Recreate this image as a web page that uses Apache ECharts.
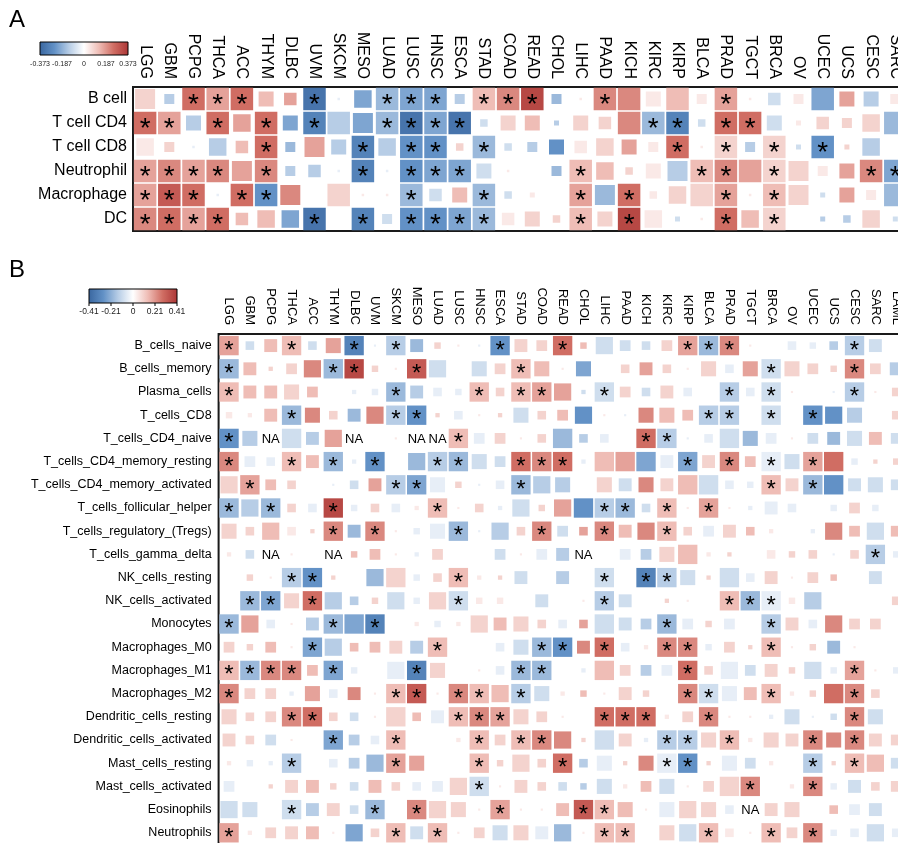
<!DOCTYPE html>
<html>
<head>
<meta charset="utf-8">
<script src="https://cdn.jsdelivr.net/npm/echarts@6/dist/echarts.min.js"></script>
<style>
  html, body { margin: 0; padding: 0; background: #fff; }
  #main { width: 898px; height: 843px; }
</style>
</head>
<body>
<div id="main"></div>
<script>
// cancer types (columns)
const colsA = ['LGG','GBM','PCPG','THCA','ACC','THYM','DLBC','UVM','SKCM','MESO','LUAD','LUSC','HNSC','ESCA','STAD','COAD',
  'READ','CHOL','LIHC','PAAD','KICH','KIRC','KIRP','BLCA','PRAD','TGCT','BRCA','OV','UCEC','UCS','CESC','SARC']
const colsB = colsA.concat(['LAML'])

const rowsA = ['B cell','T cell CD4','T cell CD8','Neutrophil','Macrophage','DC']
const rowsB = ['B_cells_naive','B_cells_memory','Plasma_cells','T_cells_CD8','T_cells_CD4_naive',
  'T_cells_CD4_memory_resting','T_cells_CD4_memory_activated','T_cells_follicular_helper',
  'T_cells_regulatory_(Tregs)','T_cells_gamma_delta','NK_cells_resting','NK_cells_activated','Monocytes',
  'Macrophages_M0','Macrophages_M1','Macrophages_M2','Dendritic_cells_resting','Dendritic_cells_activated',
  'Mast_cells_resting','Mast_cells_activated','Eosinophils','Neutrophils']

// colour bar ticks
const ticksA = ['-0.373','-0.187','0','0.187','0.373']
const ticksB = ['-0.41','-0.21','0','0.21','0.41']

// correlation, as level -9..9 of the colour bar
const levelA = [
  [2,-3,6,4,6,3,4,-8,-1,-5,-4,-5,-5,-3,3,5,8,-4,1,5,5,1,3,1,4,1,-2,1,-5,4,-3,1],
  [6,4,-3,6,4,6,-5,-7,-3,-5,-4,-8,-5,-8,-2,2,3,-3,2,2,5,-4,-7,-2,6,6,-2,1,2,2,2,-4],
  [1,2,-1,-3,3,6,-4,4,-3,-7,-3,-6,-6,2,-4,-2,-3,-6,1,2,4,1,6,1,2,-3,2,-2,-6,2,-3,0],
  [4,5,4,5,4,5,-3,-3,-1,-7,-1,-6,-5,-5,-2,1,0,-4,3,3,2,1,-3,3,5,4,2,2,1,4,5,-5],
  [4,7,6,-1,6,-6,5,0,2,1,1,-4,-2,3,-4,-2,1,0,4,-4,6,1,2,2,4,1,3,2,-2,4,1,-4],
  [5,6,4,6,3,3,-5,-8,0,-7,-2,-6,-6,-5,-4,1,2,2,3,2,8,1,-2,1,6,3,2,0,-3,-3,2,-2]
]
// square size, 0..9 of a full cell
const sizeA = [
  [8,4,9,9,9,6,5,9,1,7,9,9,9,4,9,9,9,4,1,9,9,6,9,4,9,1,5,4,9,6,6,4],
  [9,9,6,9,7,9,6,9,9,8,9,9,9,9,3,6,6,2,6,5,9,9,9,3,9,9,6,2,5,4,7,9],
  [7,4,1,7,5,9,4,8,6,9,7,9,9,3,9,3,4,6,5,7,6,4,9,1,9,4,9,2,9,2,7,0],
  [9,9,9,9,8,9,4,5,1,9,1,9,9,9,6,1,0,4,9,7,3,6,8,9,9,9,9,8,4,6,9,9],
  [9,9,9,1,9,9,8,1,9,1,1,9,5,6,9,3,2,1,9,8,9,3,7,9,9,1,9,8,2,6,4,9],
  [9,9,9,9,5,7,7,9,1,9,4,9,9,9,9,5,6,3,9,6,9,7,2,1,9,7,9,1,2,3,7,2]
]
// * = significant, N = NA
const markA = [
  '..***..*..***.***..*....*.......',
  '**.*.*.*..****.......**.**......',
  '.....*...*.**.*.......*.*.*.*...',
  '****.*...*.***....*....**.*...**',
  '***.**.....*..*...*.*...*.*.....',
  '****...*.*.****...*.*...*.*.....'
]

const levelB = [
  [4,-2,3,3,-2,4,-7,-1,-3,-4,2,1,-1,-6,2,2,6,3,-2,-2,-2,2,4,-4,5,1,0,-1,-1,-3,-3,-2,0],
  [-4,3,2,2,5,-4,8,2,1,7,-2,0,-2,2,3,3,1,-5,0,2,4,2,1,2,-1,4,-2,2,2,2,5,2,-3],
  [3,3,3,2,3,0,-1,-1,-4,-3,-1,-1,3,2,3,4,4,-2,-2,2,-2,2,-1,0,-3,-1,-2,1,0,-1,-3,1,2],
  [1,1,3,-4,5,2,-4,5,-3,-6,2,-1,1,2,-2,2,3,-6,1,-1,5,3,3,-3,-3,0,-2,0,-6,-6,-3,0,2],
  [-6,-3,0,-2,-3,4,0,0,1,0,0,3,-1,2,1,2,-4,-3,-1,0,6,-3,-1,-1,-2,-4,-1,1,-2,-4,-2,3,-2],
  [5,-1,-1,3,3,-4,-1,-6,0,-4,-3,-4,-2,-2,6,5,6,-1,3,4,-5,-1,-5,2,5,3,-1,-2,4,6,-1,2,2],
  [2,4,3,2,0,-1,-2,4,-3,-5,-1,2,-1,-1,-4,-3,-3,0,2,-2,5,2,3,-2,-1,-1,3,2,-4,-6,-2,-2,-2],
  [-4,-3,-4,2,-1,8,-1,2,-1,1,3,1,2,-1,-2,2,4,-6,-3,-4,-2,3,1,4,1,-1,-1,-1,0,-1,2,-1,0],
  [2,2,3,1,2,5,-4,5,1,-1,-1,-4,-1,-3,2,5,-2,4,5,3,5,3,2,-1,2,3,1,0,-1,5,3,-2,3],
  [1,-2,0,1,0,0,3,3,1,-1,2,0,0,-2,1,-1,-3,0,0,-1,-3,2,3,1,2,0,1,2,2,-1,2,-3,-1],
  [0,2,1,-3,-6,2,0,-4,2,-1,2,3,1,2,-2,0,-3,0,-2,0,-7,-3,-2,2,-2,-1,2,1,2,3,0,-2,0],
  [0,-4,-5,2,6,-3,-3,2,-2,-1,2,-2,1,1,0,-2,0,1,-3,-2,0,2,1,0,3,-4,-1,1,-3,0,0,0,2],
  [-4,4,-1,1,-3,-4,-5,-7,0,1,-1,1,2,3,2,2,-1,4,-2,-2,-3,-4,-1,2,-1,0,-3,2,-1,5,2,2,0],
  [2,2,3,1,-5,-3,3,3,2,-3,3,0,0,-1,-2,-4,-6,5,6,-1,1,5,5,-1,2,2,3,1,2,-4,1,0,0],
  [3,-4,5,5,3,-5,-1,0,-1,-7,2,0,1,-1,-4,-4,0,-1,3,2,-3,-1,6,2,-1,-2,2,2,-2,-1,4,1,-1],
  [5,2,2,-1,4,-1,5,1,3,7,1,5,3,3,-3,-2,1,3,1,2,2,0,5,-2,-1,3,3,1,2,6,5,2,0],
  [2,2,2,5,6,2,-2,1,2,3,-1,3,5,4,2,2,1,0,6,6,6,1,2,5,1,1,-1,-2,-1,-2,5,-2,0],
  [2,2,-2,1,0,-5,-3,-1,3,0,0,1,3,2,3,5,5,2,-2,2,-1,-3,-3,2,3,1,2,2,5,5,5,2,2],
  [1,-1,-1,-3,0,-1,-3,-4,4,4,0,0,3,2,2,2,6,-3,-1,2,5,-1,-6,2,-1,-2,1,0,-3,2,3,3,-2],
  [-1,0,2,2,3,2,-2,3,2,-1,-1,2,-2,1,2,2,-2,-3,-2,1,3,-2,1,2,2,5,0,1,5,-1,-2,2,2],
  [-2,-2,0,-2,-3,2,-2,-4,0,5,2,2,1,4,1,1,3,7,3,3,1,-1,2,2,-1,0,2,2,0,3,-1,-2,0],
  [4,1,2,2,3,1,-5,2,3,-2,3,1,2,-2,2,-1,-4,1,3,3,0,2,-2,3,1,1,3,2,5,-1,-1,-2,-1]
]
const sizeB = [
  [9,4,6,9,4,7,9,1,9,6,3,1,1,9,6,5,9,3,8,5,4,5,9,9,9,1,0,4,3,4,9,6,0],
  [9,6,2,5,8,9,9,3,1,9,8,0,7,5,9,7,1,7,0,4,6,4,1,7,4,7,9,7,5,3,9,5,6],
  [9,6,6,7,5,0,2,3,9,6,4,3,9,4,9,9,8,2,9,5,4,6,4,1,9,4,9,1,1,1,9,1,4],
  [3,2,6,9,7,4,6,8,9,9,2,4,1,2,7,4,5,8,1,1,7,7,5,9,9,1,9,2,9,8,7,1,4],
  [9,7,0,9,6,8,0,1,1,0,0,9,5,5,1,4,9,4,4,1,9,9,1,4,9,7,5,1,5,6,7,6,5],
  [9,5,4,9,6,9,2,9,0,8,9,9,7,5,9,9,9,2,9,9,9,6,9,6,9,5,9,7,9,9,3,2,3],
  [8,9,5,4,0,1,4,6,9,9,7,3,1,4,9,8,7,0,7,6,7,6,9,9,4,3,9,6,9,9,6,7,5],
  [9,8,9,4,4,9,3,4,4,2,9,1,4,2,8,3,8,9,9,9,4,9,1,9,1,2,6,4,1,3,5,3,0],
  [7,4,8,4,2,9,6,9,1,3,7,9,1,8,4,9,5,4,9,6,8,9,4,5,6,4,2,1,2,8,5,8,5],
  [2,4,0,1,0,0,3,5,1,2,5,0,1,5,1,5,6,0,0,5,5,7,9,2,2,0,4,3,4,1,4,9,3],
  [1,3,1,9,9,2,1,8,9,3,4,9,2,2,6,1,6,0,9,0,9,9,7,2,9,4,6,1,5,3,1,6,0],
  [1,9,9,7,9,8,4,3,8,3,8,9,3,3,1,6,1,1,9,6,0,2,1,1,9,9,9,3,8,0,0,0,4],
  [9,8,4,1,6,9,9,9,1,2,3,2,8,6,7,4,4,4,9,6,5,9,5,3,5,0,9,6,4,8,5,5,0],
  [5,3,5,1,9,8,4,5,6,6,9,1,1,4,7,9,9,6,9,4,2,9,9,3,5,2,9,1,3,6,1,0,0],
  [9,9,9,9,5,9,3,0,8,9,7,1,1,4,9,9,1,2,9,5,5,5,9,4,8,5,6,3,8,3,9,1,3],
  [9,5,5,2,7,4,6,1,9,9,1,9,9,8,9,7,2,3,1,6,3,1,9,9,7,6,9,2,3,9,9,4,0],
  [7,4,5,9,9,4,4,1,9,4,6,9,9,9,7,5,1,0,9,9,9,2,5,9,1,1,2,7,1,3,9,7,0],
  [6,4,5,1,1,9,5,4,9,1,1,2,9,5,9,9,8,2,9,6,2,9,9,7,9,2,7,6,9,7,9,6,5],
  [2,3,2,9,0,4,5,8,9,7,0,1,9,3,8,4,9,4,7,2,7,9,9,2,7,5,2,0,9,2,9,8,5],
  [5,1,2,6,6,3,4,6,4,4,5,8,9,1,6,4,4,3,7,2,5,7,1,5,9,9,1,2,9,3,6,4,5],
  [8,7,1,9,6,6,4,9,1,9,8,7,1,9,1,1,6,9,9,7,1,7,8,7,4,0,6,7,0,4,5,6,0],
  [9,2,5,6,6,1,8,4,9,6,9,1,5,7,7,6,8,1,9,9,0,7,8,9,4,1,9,5,9,3,4,8,4]
]
const markB = [
  '*..*..*.*....*..*.....***.....*..',
  '*....**..*....*...........*...*..',
  '*.......*...*.**..*.....*.*...*..',
  '...*....**.............**.*.*....',
  '*.N...N..NN*........**...........',
  '*..*.*.*..**..***.....*.*.*.*....',
  '.*......**....*...........*.*....',
  '*.*..*....*.......**.*.*.........',
  '.....*.*...*...*..*..*...........',
  '..N..N...........N.............*.',
  '...**......*......*.**...........',
  '.**.*......*......*.....***......',
  '*....*.*.............*....*......',
  '....*.....*....**.*..**...*......',
  '****.*...*....**......*.......*..',
  '*.......**.**.*.......**..*...*..',
  '...**......***....***..*......*..',
  '.....*..*...*.**.....**.*...*.*..',
  '...*....*...*...*....**.....*.*..',
  '............*............*..*....',
  '...*...*.*...*...**......N.......',
  '*.......*.*.......**...*..*.*....'
]

const FONT = '"Liberation Sans", Arial, Helvetica, sans-serif'
const PALETTE = ['#39669f', '#6291c6', '#b7cde6', '#ffffff', '#efbdb6', '#d06d63', '#ab3535']

function buildCells(levels, sizes, marks) {
  const out = []
  levels.forEach((row, i) => {
    row.forEach((v, j) => {
      const m = marks[i][j]
      out.push([j, i, v, sizes[i][j], m === '*' ? 1 : m === 'N' ? 2 : 0])
    })
  })
  return out
}

function cellSeries(idx, data, starSize) {
  return {
    type: 'custom',
    coordinateSystem: 'cartesian2d',
    xAxisIndex: idx,
    yAxisIndex: idx,
    encode: { x: 0, y: 1 },
    data: data,
    renderItem: function (params, api) {
      const c = api.coord([api.value(0), api.value(1)])
      const cell = api.size([1, 1])
      const full = Math.min(cell[0], cell[1]) - 1.5
      const side = full * api.value(3) / 9
      const mark = api.value(4)
      const kids = []
      if (side > 0) {
        kids.push({
          type: 'rect',
          shape: { x: c[0] - side / 2, y: c[1] - side / 2, width: side, height: side },
          style: { fill: api.visual('color') }
        })
      }
      if (mark === 1) {
        kids.push({
          type: 'text',
          style: {
            text: '*', x: c[0], y: c[1] + starSize * 0.22,
            align: 'center', verticalAlign: 'middle',
            font: starSize + 'px ' + FONT, fill: '#000'
          }
        })
      } else if (mark === 2) {
        kids.push({
          type: 'text',
          style: {
            text: 'NA', x: c[0], y: c[1] + 1,
            align: 'center', verticalAlign: 'middle',
            font: '13px ' + FONT, fill: '#000'
          }
        })
      }
      return { type: 'group', children: kids }
    }
  }
}

function colourBar(x, y, w, h, ticks, fontSize, withTicks) {
  const els = [{
    type: 'rect',
    shape: { x: x, y: y, width: w, height: h },
    style: {
      fill: new echarts.graphic.LinearGradient(0, 0, 1, 0,
        PALETTE.map((col, i) => ({ offset: i / (PALETTE.length - 1), color: col }))),
      stroke: '#000', lineWidth: 1
    }
  }]
  ticks.forEach((t, i) => {
    const tx = x + i * w / (ticks.length - 1)
    if (withTicks) {
      els.push({ type: 'line', shape: { x1: tx, y1: y + h, x2: tx, y2: y + h + 3 }, style: { stroke: '#000', lineWidth: 1 } })
    }
    els.push({
      type: 'text',
      style: { text: t, x: tx, y: y + h + 9, align: 'center', verticalAlign: 'middle', font: fontSize + 'px ' + FONT, fill: '#222' }
    })
  })
  return els
}

const chart = echarts.init(document.getElementById('main'))

const xAxisBase = (data, fontSize, margin) => ({
  type: 'category',
  position: 'top',
  data: data,
  axisLine: { show: false },
  axisTick: { show: false },
  splitLine: { show: false },
  axisLabel: { rotate: 90, interval: 0, fontSize: fontSize, fontFamily: FONT, color: '#000', margin: margin }
})
const yAxisBase = (data, fontSize, margin) => ({
  type: 'category',
  inverse: true,
  data: data,
  axisLine: { show: false },
  axisTick: { show: false },
  splitLine: { show: false },
  axisLabel: { interval: 0, fontSize: fontSize, fontFamily: FONT, color: '#000', margin: margin }
})

const option = {
  animation: false,
  backgroundColor: '#fff',
  grid: [
    { left: 133, top: 87, width: 24.2 * colsA.length, height: 24 * rowsA.length, outerBoundsMode: 'none',
      show: true, borderColor: '#1a1a1a', borderWidth: 2, backgroundColor: 'transparent' },
    { left: 218.6, top: 334, width: 20.85 * colsB.length, height: 23.2 * rowsB.length, outerBoundsMode: 'none',
      show: true, borderColor: '#1a1a1a', borderWidth: 2, backgroundColor: 'transparent' }
  ],
  xAxis: [
    Object.assign(xAxisBase(colsA, 16, 8), { gridIndex: 0 }),
    Object.assign(xAxisBase(colsB, 13, 9), { gridIndex: 1 })
  ],
  yAxis: [
    Object.assign(yAxisBase(rowsA, 16, 6), { gridIndex: 0 }),
    Object.assign(yAxisBase(rowsB, 12.5, 7), { gridIndex: 1 })
  ],
  visualMap: {
    show: false,
    type: 'continuous',
    min: -9,
    max: 9,
    dimension: 2,
    seriesIndex: [0, 1],
    inRange: { color: PALETTE }
  },
  graphic: [
    { type: 'text', left: 9, top: 8, style: { text: 'A', font: '24px ' + FONT, fill: '#000' } },
    { type: 'text', left: 9, top: 258, style: { text: 'B', font: '24px ' + FONT, fill: '#000' } }
  ].concat(colourBar(40, 42, 88, 13, ticksA, 7, false))
   .concat(colourBar(89, 289, 88, 14, ticksB, 8.5, true)),
  series: [
    cellSeries(0, buildCells(levelA, sizeA, markA), 28),
    cellSeries(1, buildCells(levelB, sizeB, markB), 24)
  ]
}

chart.setOption(option)
</script>
</body>
</html>
